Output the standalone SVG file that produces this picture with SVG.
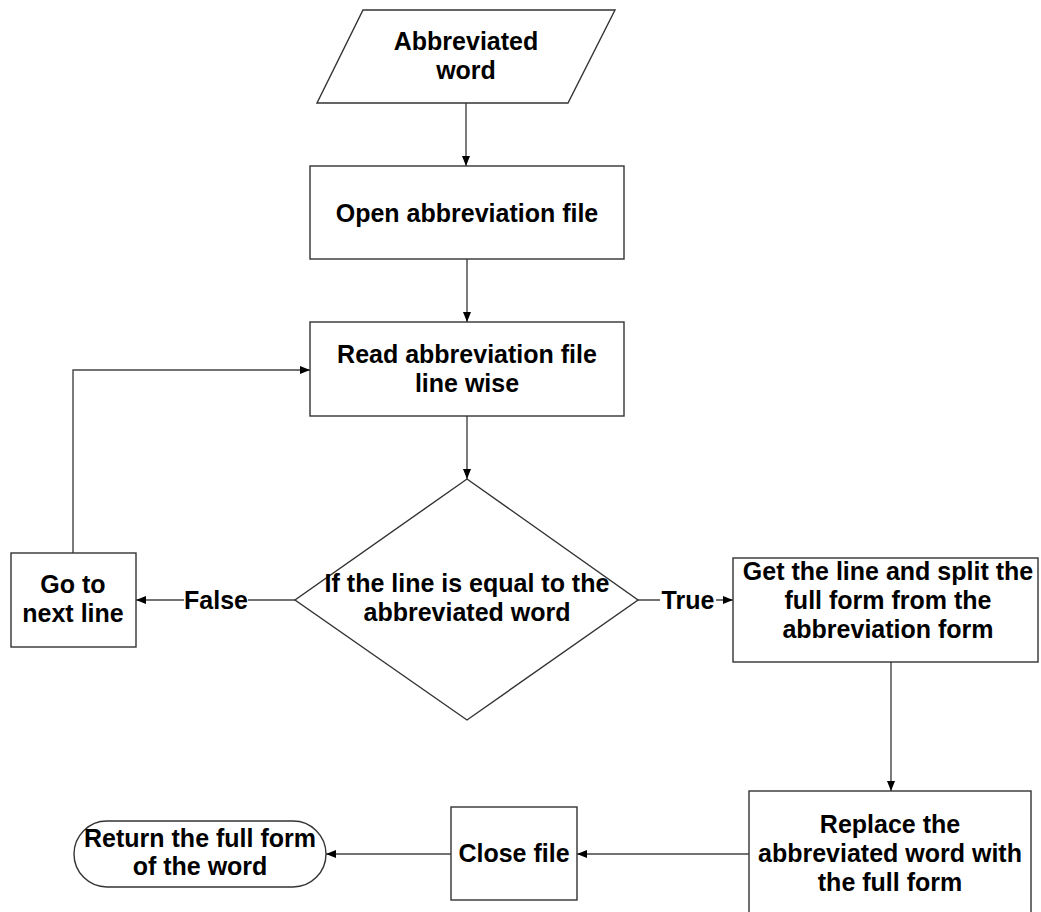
<svg xmlns="http://www.w3.org/2000/svg" width="1041" height="912" viewBox="0 0 1041 912">
  <style>
    .shape { fill: #ffffff; stroke: #333333; stroke-width: 1.4; }
    .edge { fill: none; stroke: #444444; stroke-width: 1.4; }
    .label { font-family: "Liberation Sans", Arial, sans-serif; font-weight: bold; font-size: 25px; fill: #000000; text-anchor: middle; }
    .bg { fill: #ffffff; stroke: none; }
  </style>
  <defs>
    <marker id="arrow" markerUnits="userSpaceOnUse" markerWidth="10" markerHeight="8" refX="10" refY="4" orient="auto">
      <path d="M0,0 L10,4 L0,8 Z" fill="#000000"/>
    </marker>
  </defs>
  <rect width="1041" height="912" fill="#ffffff"/>

  <!-- connectors -->
  <g id="connectors">
    <line class="edge" x1="466" y1="103" x2="466" y2="166" marker-end="url(#arrow)"/>
    <line class="edge" x1="467" y1="259" x2="467" y2="322" marker-end="url(#arrow)"/>
    <line class="edge" x1="467" y1="416" x2="467" y2="479" marker-end="url(#arrow)"/>
    <line class="edge" x1="295" y1="600" x2="136" y2="600" marker-end="url(#arrow)"/>
    <line class="edge" x1="638" y1="600" x2="733" y2="600" marker-end="url(#arrow)"/>
    <polyline class="edge" points="73,553 73,370 310,370" marker-end="url(#arrow)"/>
    <line class="edge" x1="891" y1="662" x2="891" y2="791" marker-end="url(#arrow)"/>
    <line class="edge" x1="749" y1="854" x2="577" y2="854" marker-end="url(#arrow)"/>
    <line class="edge" x1="451" y1="854" x2="326" y2="854" marker-end="url(#arrow)"/>
    <rect class="bg" x="184" y="586" width="64" height="28"/>
    <text class="label" x="216" y="609">False</text>
    <rect class="bg" x="660" y="586" width="56" height="28"/>
    <text class="label" x="688" y="609">True</text>
  </g>

  <!-- input -->
  <g id="input">
    <polygon class="shape" points="363,10 615,10 568,103 317,103"/>
    <text class="label" x="466" y="50">Abbreviated</text>
    <text class="label" x="466" y="79">word</text>
  </g>

  <g id="open-file">
    <rect class="shape" x="310" y="166" width="314" height="93"/>
    <text class="label" x="467" y="222">Open abbreviation file</text>
  </g>

  <g id="read-file">
    <rect class="shape" x="310" y="322" width="314" height="94"/>
    <text class="label" x="467" y="363">Read abbreviation file</text>
    <text class="label" x="467" y="392">line wise</text>
  </g>

  <g id="decision">
    <polygon class="shape" points="467,479 638,600 467,720 295,600"/>
    <text class="label" x="467" y="592">If the line is equal to the</text>
    <text class="label" x="467" y="621">abbreviated word</text>
  </g>

  <g id="next-line">
    <rect class="shape" x="11" y="553" width="125" height="94"/>
    <text class="label" x="73" y="593">Go to</text>
    <text class="label" x="73" y="622">next line</text>
  </g>

  <g id="split-line">
    <rect class="shape" x="733" y="558" width="305" height="104"/>
    <text class="label" x="888" y="580">Get the line and split the</text>
    <text class="label" x="888" y="609">full form from the</text>
    <text class="label" x="888" y="638">abbreviation form</text>
  </g>

  <g id="replace">
    <rect class="shape" x="749" y="791" width="282" height="140"/>
    <text class="label" x="890" y="833">Replace the</text>
    <text class="label" x="890" y="862">abbreviated word with</text>
    <text class="label" x="890" y="891">the full form</text>
  </g>

  <g id="close-file">
    <rect class="shape" x="451" y="807" width="126" height="93"/>
    <text class="label" x="514" y="862">Close file</text>
  </g>

  <g id="return">
    <rect class="shape" x="74" y="821" width="252" height="66" rx="33" ry="33"/>
    <text class="label" x="200" y="847">Return the full form</text>
    <text class="label" x="200" y="875">of the word</text>
  </g>
</svg>
